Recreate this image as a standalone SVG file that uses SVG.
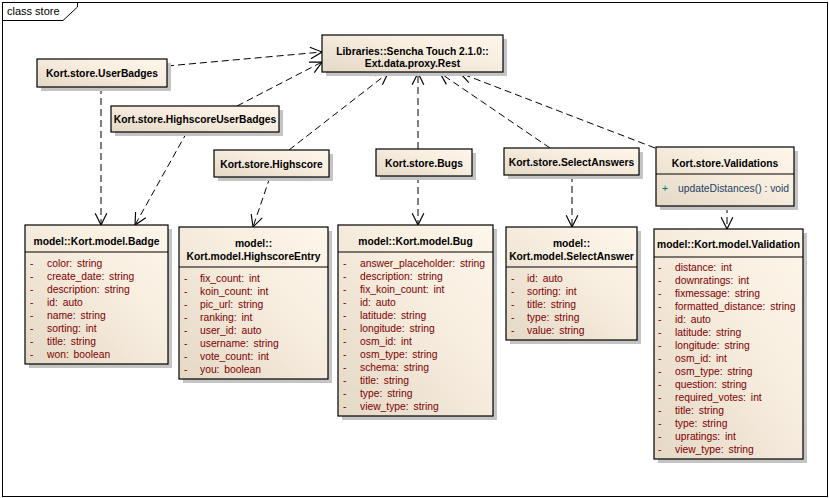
<svg xmlns="http://www.w3.org/2000/svg" width="829" height="498" viewBox="0 0 829 498">
<style>
.frame{fill:none;stroke:#000;stroke-width:1}
.box{fill:url(#g);stroke:#000;stroke-width:1.2}
.sh{fill:#c4c4c4}
.div{stroke:#000;stroke-width:1.2}
.t{font-family:"Liberation Sans",Arial,sans-serif;font-size:10.3px;font-weight:bold;fill:#000;text-anchor:middle}
.a{font-family:"Liberation Sans",Arial,sans-serif;font-size:10.3px;fill:#800000;word-spacing:2px}
.op{font-family:"Liberation Sans",Arial,sans-serif;font-size:10.3px;fill:#1c3f66}
.pl{font-family:"Liberation Sans",Arial,sans-serif;font-size:10.3px;fill:#00707a}
.dep{fill:none;stroke:#000;stroke-width:1;stroke-dasharray:7,4}
.lbl{font-family:"Liberation Sans",Arial,sans-serif;font-size:11px;fill:#000}
</style>
<defs>
<linearGradient id="g" x1="0" y1="1" x2="1" y2="0">
<stop offset="0" stop-color="#e4d8c5"/>
<stop offset="0.6" stop-color="#f8eee0"/>
<stop offset="1" stop-color="#fdf6ea"/>
</linearGradient>
<marker id="arr" markerUnits="userSpaceOnUse" markerWidth="14" markerHeight="14" viewBox="0 0 12 12" refX="11" refY="6" orient="auto">
<path d="M1,1 L11,6 L1,11" fill="none" stroke="#000" stroke-width="1"/>
</marker>
</defs>
<rect x="0" y="0" width="829" height="498" fill="#fff"/>
<g id="frame">
<rect class="frame" x="2.5" y="2.5" width="825" height="494"/>
<path class="frame" d="M2.5,20.5 H63 L77.5,7 V2.5"/>
<text class="lbl" x="7" y="15">class store</text>
</g>
<g id="connectors">
<path class="dep" d="M167,66 L322,52" marker-end="url(#arr)"/>
<path class="dep" d="M237,106 L322,62" marker-end="url(#arr)"/>
<path class="dep" d="M289,150 L388,73" marker-end="url(#arr)"/>
<path class="dep" d="M418,149 L418,73" marker-end="url(#arr)"/>
<path class="dep" d="M550,148 L440,73" marker-end="url(#arr)"/>
<path class="dep" d="M655,148 L460,73" marker-end="url(#arr)"/>
<path class="dep" d="M101,87 L101,225" marker-end="url(#arr)"/>
<path class="dep" d="M187,132 L135,225" marker-end="url(#arr)"/>
<path class="dep" d="M270,177 L253,227" marker-end="url(#arr)"/>
<path class="dep" d="M418,176 L418,225" marker-end="url(#arr)"/>
<path class="dep" d="M572,175 L572,227" marker-end="url(#arr)"/>
<path class="dep" d="M727,206 L727,229" marker-end="url(#arr)"/>
</g>
<g id="rest">
<rect class="sh" x="326" y="39" width="181" height="37"/>
<rect class="box" x="322" y="35" width="181" height="37"/>
<text class="t" x="412.5" y="54.5">Libraries::Sencha Touch 2.1.0::</text>
<text class="t" x="412.5" y="67">Ext.data.proxy.Rest</text>
</g>
<g id="userBadges">
<rect class="sh" x="41" y="63" width="130" height="28"/>
<rect class="box" x="37" y="59" width="130" height="28"/>
<text class="t" x="102" y="77">Kort.store.UserBadges</text>
</g>
<g id="highscoreUserBadges">
<rect class="sh" x="115" y="110" width="168" height="26"/>
<rect class="box" x="111" y="106" width="168" height="26"/>
<text class="t" x="195" y="123">Kort.store.HighscoreUserBadges</text>
</g>
<g id="highscore">
<rect class="sh" x="218" y="154" width="115" height="27"/>
<rect class="box" x="214" y="150" width="115" height="27"/>
<text class="t" x="271.5" y="167.5">Kort.store.Highscore</text>
</g>
<g id="bugs">
<rect class="sh" x="380" y="153" width="96" height="27"/>
<rect class="box" x="376" y="149" width="96" height="27"/>
<text class="t" x="424" y="166.5">Kort.store.Bugs</text>
</g>
<g id="selectAnswers">
<rect class="sh" x="508" y="152" width="135" height="27"/>
<rect class="box" x="504" y="148" width="135" height="27"/>
<text class="t" x="571.5" y="165.5">Kort.store.SelectAnswers</text>
</g>
<g id="validations">
<rect class="sh" x="660" y="151" width="138" height="59"/>
<rect class="box" x="656" y="147" width="138" height="59"/>
<line class="div" x1="656" y1="174" x2="794" y2="174"/>
<text class="t" x="725" y="166.5">Kort.store.Validations</text>
<text class="pl" x="662" y="192">+</text>
<text class="op" x="678" y="192">updateDistances() : void</text>
</g>
<g id="badge">
<rect class="sh" x="29" y="229" width="143" height="139"/>
<rect class="box" x="25" y="225" width="143" height="139"/>
<line class="div" x1="25" y1="252" x2="168" y2="252"/>
<text class="t" x="96.5" y="244.5">model::Kort.model.Badge</text>
<g class="a">
<text x="30" y="266.5">-</text><text x="47" y="266.5">color: string</text>
<text x="30" y="279.5">-</text><text x="47" y="279.5">create_date: string</text>
<text x="30" y="292.5">-</text><text x="47" y="292.5">description: string</text>
<text x="30" y="305.5">-</text><text x="47" y="305.5">id: auto</text>
<text x="30" y="318.5">-</text><text x="47" y="318.5">name: string</text>
<text x="30" y="331.5">-</text><text x="47" y="331.5">sorting: int</text>
<text x="30" y="344.5">-</text><text x="47" y="344.5">title: string</text>
<text x="30" y="357.5">-</text><text x="47" y="357.5">won: boolean</text>
</g>
</g>
<g id="highscoreEntry">
<rect class="sh" x="183" y="231" width="149" height="152"/>
<rect class="box" x="179" y="227" width="149" height="152"/>
<line class="div" x1="179" y1="267" x2="328" y2="267"/>
<text class="t" x="253.5" y="247">model::</text>
<text class="t" x="253.5" y="259.5">Kort.model.HighscoreEntry</text>
<g class="a">
<text x="184" y="281.5">-</text><text x="200" y="281.5">fix_count: int</text>
<text x="184" y="294.5">-</text><text x="200" y="294.5">koin_count: int</text>
<text x="184" y="307.5">-</text><text x="200" y="307.5">pic_url: string</text>
<text x="184" y="320.5">-</text><text x="200" y="320.5">ranking: int</text>
<text x="184" y="333.5">-</text><text x="200" y="333.5">user_id: auto</text>
<text x="184" y="346.5">-</text><text x="200" y="346.5">username: string</text>
<text x="184" y="359.5">-</text><text x="200" y="359.5">vote_count: int</text>
<text x="184" y="372.5">-</text><text x="200" y="372.5">you: boolean</text>
</g>
</g>
<g id="bug">
<rect class="sh" x="342" y="229" width="155" height="191"/>
<rect class="box" x="338" y="225" width="155" height="191"/>
<line class="div" x1="338" y1="252" x2="493" y2="252"/>
<text class="t" x="415.5" y="244.5">model::Kort.model.Bug</text>
<g class="a">
<text x="343" y="266.5">-</text><text x="360" y="266.5">answer_placeholder: string</text>
<text x="343" y="279.5">-</text><text x="360" y="279.5">description: string</text>
<text x="343" y="292.5">-</text><text x="360" y="292.5">fix_koin_count: int</text>
<text x="343" y="305.5">-</text><text x="360" y="305.5">id: auto</text>
<text x="343" y="318.5">-</text><text x="360" y="318.5">latitude: string</text>
<text x="343" y="331.5">-</text><text x="360" y="331.5">longitude: string</text>
<text x="343" y="344.5">-</text><text x="360" y="344.5">osm_id: int</text>
<text x="343" y="357.5">-</text><text x="360" y="357.5">osm_type: string</text>
<text x="343" y="370.5">-</text><text x="360" y="370.5">schema: string</text>
<text x="343" y="383.5">-</text><text x="360" y="383.5">title: string</text>
<text x="343" y="396.5">-</text><text x="360" y="396.5">type: string</text>
<text x="343" y="409.5">-</text><text x="360" y="409.5">view_type: string</text>
</g>
</g>
<g id="selectAnswer">
<rect class="sh" x="510" y="231" width="131" height="113"/>
<rect class="box" x="506" y="227" width="131" height="113"/>
<line class="div" x1="506" y1="267" x2="637" y2="267"/>
<text class="t" x="571.5" y="247">model::</text>
<text class="t" x="571.5" y="259.5">Kort.model.SelectAnswer</text>
<g class="a">
<text x="511" y="281.5">-</text><text x="527" y="281.5">id: auto</text>
<text x="511" y="294.5">-</text><text x="527" y="294.5">sorting: int</text>
<text x="511" y="307.5">-</text><text x="527" y="307.5">title: string</text>
<text x="511" y="320.5">-</text><text x="527" y="320.5">type: string</text>
<text x="511" y="333.5">-</text><text x="527" y="333.5">value: string</text>
</g>
</g>
<g id="validation">
<rect class="sh" x="658" y="233" width="149" height="230"/>
<rect class="box" x="654" y="229" width="149" height="230"/>
<line class="div" x1="654" y1="257" x2="803" y2="257"/>
<text class="t" x="728.5" y="248">model::Kort.model.Validation</text>
<g class="a">
<text x="658" y="270.5">-</text><text x="675" y="270.5">distance: int</text>
<text x="658" y="283.5">-</text><text x="675" y="283.5">downratings: int</text>
<text x="658" y="296.5">-</text><text x="675" y="296.5">fixmessage: string</text>
<text x="658" y="309.5">-</text><text x="675" y="309.5">formatted_distance: string</text>
<text x="658" y="322.5">-</text><text x="675" y="322.5">id: auto</text>
<text x="658" y="335.5">-</text><text x="675" y="335.5">latitude: string</text>
<text x="658" y="348.5">-</text><text x="675" y="348.5">longitude: string</text>
<text x="658" y="361.5">-</text><text x="675" y="361.5">osm_id: int</text>
<text x="658" y="374.5">-</text><text x="675" y="374.5">osm_type: string</text>
<text x="658" y="387.5">-</text><text x="675" y="387.5">question: string</text>
<text x="658" y="400.5">-</text><text x="675" y="400.5">required_votes: int</text>
<text x="658" y="413.5">-</text><text x="675" y="413.5">title: string</text>
<text x="658" y="426.5">-</text><text x="675" y="426.5">type: string</text>
<text x="658" y="439.5">-</text><text x="675" y="439.5">upratings: int</text>
<text x="658" y="452.5">-</text><text x="675" y="452.5">view_type: string</text>
</g>
</g>
</svg>
